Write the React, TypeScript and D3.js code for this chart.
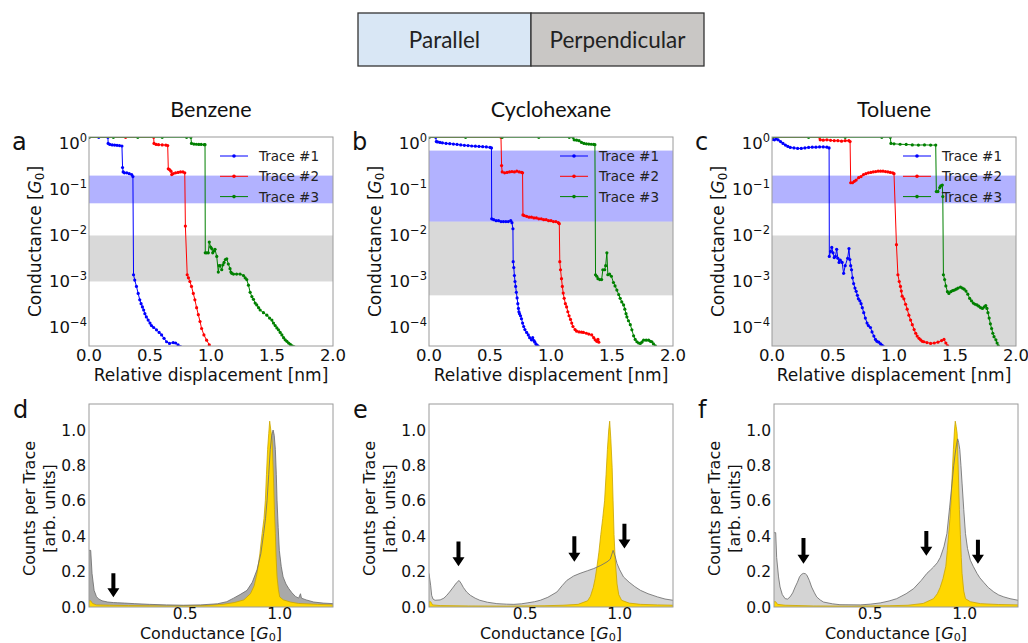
import * as d3 from "d3";

// ---------- data ----------
const titles = ["Benzene", "Cyclohexane", "Toluene"];
const topLetters = ["a", "b", "c"];
const bottomLetters = ["d", "e", "f"];
const traceNames = ["Trace #1", "Trace #2", "Trace #3"];
const traceColors = ["#0000ff", "#ff0000", "#008000"];
const traceXTicks = [0, 0.5, 1, 1.5, 2];
const traceYExponents = [0, -1, -2, -3, -4];
const histXTicks = [0.5, 1.0];
const histYTicks = [0, 0.2, 0.4, 0.6, 0.8, 1.0];
const orientationLabels = ["Parallel", "Perpendicular"];

// bands [low, high] in G0
const blueBands = [
  [0.05, 0.2],
  [0.02, 0.7],
  [0.05, 0.2],
];
const greyBands = [
  [1e-3, 1e-2],
  [5e-4, 0.02],
  [1e-6, 1e-2],
];

type P = [number, number];

const benzeneTrace1: P[] = [
  [0, 1.36], [0.08, 1.36], [0.155, 1.36], [0.157, 1.0], [0.17, 0.95], [0.19, 0.93], [0.21, 0.92], [0.23, 0.91],
  [0.25, 0.9], [0.27, 0.88], [0.275, 0.3], [0.28, 0.24], [0.29, 0.23], [0.31, 0.23], [0.33, 0.22], [0.35, 0.21],
  [0.36, 0.19], [0.365, 1.4e-3], [0.375, 1.07e-3], [0.389, 7.8e-4], [0.403, 5.5e-4], [0.416, 4e-4], [0.427, 3.3e-4],
  [0.438, 2.8e-4], [0.448, 2.4e-4], [0.458, 2e-4], [0.47, 1.7e-4], [0.485, 1.45e-4], [0.5, 1.25e-4], [0.512, 1.1e-4],
  [0.53, 1e-4], [0.553, 8.9e-5], [0.575, 7.8e-5], [0.595, 6.9e-5], [0.615, 5.8e-5], [0.636, 4.9e-5], [0.66, 4.5e-5],
  [0.69, 4.7e-5], [0.71, 4.6e-5], [0.73, 4.2e-5], [0.75, 3.8e-5],
];
const benzeneTrace2: P[] = [
  [0, 1.36], [0.3, 1.36], [0.53, 1.36], [0.533, 1.0], [0.55, 0.95], [0.57, 0.94], [0.6, 0.93], [0.63, 0.92],
  [0.645, 0.9], [0.65, 0.28], [0.66, 0.27], [0.672, 0.25], [0.678, 0.21], [0.69, 0.22], [0.71, 0.23], [0.73, 0.235],
  [0.75, 0.24], [0.77, 0.24], [0.785, 0.23], [0.79, 0.016], [0.805, 1.4e-3], [0.815, 1.2e-3], [0.827, 1.0e-3],
  [0.84, 7.8e-4], [0.855, 5.5e-4], [0.868, 4e-4], [0.882, 2.7e-4], [0.896, 1.9e-4], [0.91, 1.35e-4], [0.923, 9.5e-5],
  [0.942, 6.9e-5], [0.964, 5.3e-5], [0.986, 4.2e-5],
];
const benzeneTrace3: P[] = [
  [0, 1.36], [0.2, 1.36], [0.4, 1.36], [0.6, 1.36], [0.8, 1.36], [0.835, 1.36], [0.84, 1.0], [0.86, 0.97],
  [0.88, 0.96], [0.9, 0.95], [0.92, 0.95], [0.945, 0.94], [0.951, 0.94], [0.953, 4.2e-3], [0.965, 4.2e-3],
  [0.978, 4.2e-3], [0.986, 7.2e-3], [0.997, 5.6e-3], [1.006, 5.2e-3], [1.014, 4.2e-3], [1.024, 4.6e-3],
  [1.033, 5.0e-3], [1.047, 3.5e-3], [1.06, 1.6e-3], [1.067, 2.2e-3], [1.074, 2.2e-3], [1.088, 1.8e-3],
  [1.098, 2.3e-3], [1.107, 2.6e-3], [1.118, 3.0e-3], [1.129, 3.1e-3], [1.142, 2.4e-3], [1.156, 1.9e-3],
  [1.163, 1.6e-3], [1.17, 1.5e-3], [1.184, 1.45e-3], [1.21, 1.45e-3], [1.238, 1.45e-3], [1.266, 1.35e-3],
  [1.28, 1.2e-3], [1.293, 1.1e-3], [1.307, 8.3e-4], [1.321, 5.8e-4], [1.335, 4.7e-4], [1.348, 4.1e-4],
  [1.362, 3.4e-4], [1.375, 3.1e-4], [1.39, 2.7e-4], [1.403, 2.4e-4], [1.43, 2.1e-4], [1.458, 1.85e-4],
  [1.48, 1.6e-4], [1.499, 1.45e-4], [1.512, 1.25e-4], [1.526, 1.1e-4], [1.54, 9.8e-5], [1.553, 8.9e-5],
  [1.567, 7.8e-5], [1.581, 6.9e-5], [1.595, 6e-5], [1.608, 5.4e-5], [1.622, 5e-5], [1.636, 4.6e-5],
  [1.65, 4.3e-5], [1.665, 4e-5], [1.68, 3.8e-5],
];

const cyclohexaneTrace1: P[] = [
  [0, 1.36], [0.055, 1.36], [0.06, 1.1], [0.07, 1.08], [0.09, 1.05], [0.11, 1.03], [0.14, 1.0], [0.17, 0.99],
  [0.2, 0.97], [0.23, 0.95], [0.26, 0.93], [0.29, 0.91], [0.32, 0.9], [0.35, 0.88], [0.38, 0.87], [0.41, 0.86],
  [0.44, 0.85], [0.47, 0.84], [0.5, 0.82], [0.512, 0.8], [0.514, 0.023], [0.53, 0.022], [0.55, 0.021], [0.57, 0.021],
  [0.59, 0.02], [0.61, 0.02], [0.63, 0.02], [0.65, 0.02], [0.67, 0.021], [0.68, 0.019], [0.688, 0.014],
  [0.69, 2.7e-3], [0.695, 2.0e-3], [0.7, 1.35e-3], [0.705, 1.0e-3], [0.71, 7.8e-4], [0.716, 5.8e-4],
  [0.722, 4.4e-4], [0.728, 3.3e-4], [0.733, 2.6e-4], [0.737, 2.2e-4], [0.742, 2e-4], [0.75, 1.8e-4],
  [0.758, 1.55e-4], [0.767, 1.25e-4], [0.776, 1.05e-4], [0.786, 9e-5], [0.8, 7.8e-5], [0.814, 6.9e-5],
  [0.825, 6e-5], [0.84, 5.4e-5], [0.85, 6e-5], [0.86, 5.2e-5], [0.868, 4.8e-5], [0.878, 4.3e-5],
  [0.888, 4.1e-5], [0.9, 3.8e-5],
];
const cyclohexaneTrace2: P[] = [
  [0, 1.36], [0.59, 1.36], [0.595, 0.33], [0.6, 0.24], [0.62, 0.23], [0.64, 0.235], [0.66, 0.24], [0.68, 0.245],
  [0.7, 0.24], [0.72, 0.25], [0.74, 0.24], [0.76, 0.235], [0.767, 0.23], [0.77, 0.028], [0.78, 0.027], [0.8, 0.026],
  [0.82, 0.025], [0.84, 0.025], [0.86, 0.024], [0.88, 0.024], [0.9, 0.023], [0.92, 0.023], [0.94, 0.022],
  [0.96, 0.022], [0.98, 0.021], [1.0, 0.021], [1.02, 0.02], [1.04, 0.02], [1.06, 0.019], [1.068, 0.018],
  [1.072, 2.7e-3], [1.078, 1.8e-3], [1.086, 1.15e-3], [1.093, 7.8e-4], [1.1, 5.6e-4], [1.108, 4.3e-4],
  [1.118, 3.3e-4], [1.128, 2.8e-4], [1.138, 2.2e-4], [1.148, 1.8e-4], [1.16, 1.5e-4], [1.17, 1.25e-4],
  [1.18, 1.05e-4], [1.197, 9e-5], [1.21, 8.3e-5], [1.23, 8e-5], [1.25, 7.9e-5], [1.266, 7.8e-5], [1.29, 7.5e-5],
  [1.31, 7.2e-5], [1.334, 6.9e-5], [1.35, 6e-5], [1.362, 5.4e-5], [1.375, 5e-5], [1.385, 5.5e-5], [1.392, 4.8e-5],
];
const cyclohexaneTrace3: P[] = [
  [0, 1.36], [0.3, 1.36], [0.6, 1.36], [0.9, 1.36], [1.15, 1.36], [1.18, 1.36], [1.19, 1.2], [1.21, 1.18],
  [1.23, 1.15], [1.25, 1.05], [1.27, 1.0], [1.29, 0.98], [1.31, 0.97], [1.33, 0.96], [1.35, 0.95], [1.36, 0.94],
  [1.365, 1.4e-3], [1.375, 1.3e-3], [1.385, 1.15e-3], [1.4, 1.1e-3], [1.415, 1.1e-3], [1.425, 1.8e-3],
  [1.44, 1.8e-3], [1.448, 2.2e-3], [1.458, 4.2e-3], [1.466, 1.4e-3], [1.48, 1.45e-3], [1.495, 1.3e-3],
  [1.512, 9.5e-4], [1.525, 8e-4], [1.54, 6.5e-4], [1.555, 5.2e-4], [1.567, 4.3e-4], [1.58, 3.6e-4],
  [1.595, 3.1e-4], [1.605, 2.5e-4], [1.615, 2e-4], [1.622, 1.7e-4], [1.635, 1.4e-4], [1.65, 1.15e-4],
  [1.663, 8.9e-5], [1.677, 6.6e-5], [1.69, 5.5e-5], [1.704, 4.9e-5], [1.718, 4.6e-5], [1.732, 4.5e-5],
  [1.745, 4.8e-5], [1.759, 5.3e-5], [1.78, 5.3e-5], [1.8, 5.3e-5], [1.815, 5e-5], [1.827, 4.9e-5],
  [1.84, 4.4e-5], [1.855, 4e-5],
];

const tolueneTrace1: P[] = [
  [0, 1.25], [0.005, 1.22], [0.02, 1.2], [0.035, 1.25], [0.05, 1.2], [0.07, 1.1], [0.09, 1.0], [0.11, 0.92],
  [0.13, 0.86], [0.15, 0.82], [0.18, 0.8], [0.21, 0.78], [0.24, 0.78], [0.27, 0.8], [0.3, 0.82], [0.33, 0.83],
  [0.36, 0.83], [0.39, 0.84], [0.42, 0.84], [0.45, 0.83], [0.468, 0.8], [0.47, 3.5e-3], [0.48, 4.5e-3],
  [0.49, 5.5e-3], [0.5, 4.2e-3], [0.51, 3.3e-3], [0.52, 3.5e-3], [0.53, 5e-3], [0.54, 3.2e-3], [0.55, 2.6e-3],
  [0.56, 2.9e-3], [0.575, 2.6e-3], [0.587, 1.5e-3], [0.6, 2.2e-3], [0.62, 3.2e-3], [0.631, 5.2e-3],
  [0.638, 3.0e-3], [0.645, 2.2e-3], [0.652, 1.8e-3], [0.66, 1.2e-3], [0.669, 9e-4], [0.68, 7.2e-4],
  [0.69, 6.1e-4], [0.7, 5e-4], [0.708, 4.2e-4], [0.72, 3.8e-4], [0.73, 3.3e-4], [0.74, 2.7e-4], [0.752, 2.1e-4],
  [0.765, 1.6e-4], [0.779, 1.25e-4], [0.79, 1.1e-4], [0.807, 1.0e-4], [0.82, 8e-5], [0.835, 6.5e-5],
  [0.848, 5.5e-5], [0.86, 5e-5], [0.875, 4.8e-5], [0.89, 4.4e-5], [0.903, 4.1e-5], [0.915, 3.8e-5],
];
const tolueneTrace2: P[] = [
  [0, 1.36], [0.39, 1.36], [0.395, 1.2], [0.42, 1.18], [0.45, 1.2], [0.48, 1.17], [0.51, 1.15], [0.54, 1.15],
  [0.57, 1.12], [0.6, 1.15], [0.63, 1.15], [0.64, 1.1], [0.645, 0.14], [0.66, 0.14], [0.675, 0.15], [0.69, 0.16],
  [0.71, 0.18], [0.73, 0.19], [0.75, 0.21], [0.77, 0.22], [0.79, 0.23], [0.81, 0.235], [0.83, 0.24], [0.85, 0.245],
  [0.87, 0.25], [0.89, 0.25], [0.91, 0.25], [0.93, 0.245], [0.95, 0.24], [0.97, 0.235], [0.99, 0.23], [1.0, 0.22],
  [1.02, 6.3e-3], [1.032, 1.4e-3], [1.043, 1.0e-3], [1.053, 7.8e-4], [1.06, 6.2e-4], [1.067, 4.8e-4],
  [1.081, 4.2e-4], [1.095, 3.2e-4], [1.108, 2.5e-4], [1.122, 1.85e-4], [1.136, 1.45e-4], [1.15, 1.15e-4],
  [1.165, 9e-5], [1.178, 7.5e-5], [1.19, 6.5e-5], [1.205, 5.8e-5], [1.218, 5.4e-5], [1.232, 5e-5],
  [1.245, 4.9e-5], [1.27, 4.7e-5], [1.3, 4.5e-5], [1.33, 4.6e-5], [1.36, 4.8e-5], [1.39, 5.2e-5],
  [1.41, 5.5e-5], [1.425, 4.6e-5], [1.44, 4.0e-5],
];
const tolueneTrace3: P[] = [
  [0, 1.36], [0.3, 1.36], [0.6, 1.36], [0.9, 1.36], [0.97, 1.36], [0.975, 1.0], [1.0, 0.98], [1.05, 0.96],
  [1.1, 0.95], [1.15, 0.93], [1.2, 0.92], [1.25, 0.93], [1.3, 0.92], [1.342, 0.92], [1.347, 0.09], [1.36, 0.09],
  [1.375, 0.11], [1.383, 0.12], [1.396, 0.125], [1.4, 0.07], [1.405, 1.4e-3], [1.415, 1.1e-3], [1.425, 8e-4],
  [1.438, 6e-4], [1.45, 5.5e-4], [1.465, 6e-4], [1.48, 6.3e-4], [1.495, 6.5e-4], [1.51, 6.8e-4], [1.525, 7.2e-4],
  [1.545, 7.5e-4], [1.56, 7.2e-4], [1.575, 6.8e-4], [1.59, 6.2e-4], [1.605, 5.3e-4], [1.62, 4.3e-4],
  [1.635, 3.8e-4], [1.65, 3.4e-4], [1.665, 3.2e-4], [1.68, 3.1e-4], [1.695, 2.9e-4], [1.71, 2.7e-4],
  [1.725, 2.6e-4], [1.74, 2.8e-4], [1.752, 3.0e-4], [1.762, 2.6e-4], [1.77, 2.1e-4], [1.78, 1.6e-4],
  [1.79, 1.2e-4], [1.8, 9.5e-5], [1.81, 7.5e-5], [1.82, 6.3e-5], [1.835, 5.4e-5], [1.845, 4.6e-5], [1.855, 4e-5],
];

// histograms: [conductance, counts]
const benzeneGrey: P[] = [
  [-0.009, 0.32], [0.0, 0.32], [0.007, 0.19], [0.018, 0.094], [0.03, 0.06], [0.04, 0.047], [0.06, 0.035],
  [0.09, 0.028], [0.12, 0.025], [0.14, 0.024], [0.18, 0.022], [0.23, 0.019], [0.31, 0.015], [0.4, 0.012],
  [0.49, 0.01], [0.58, 0.012], [0.67, 0.018], [0.72, 0.03], [0.756, 0.05], [0.79, 0.07], [0.827, 0.094],
  [0.855, 0.14], [0.88, 0.21], [0.9, 0.3], [0.915, 0.415], [0.925, 0.5], [0.933, 0.6], [0.942, 0.75],
  [0.95, 0.89], [0.958, 0.97], [0.965, 1.0], [0.971, 0.97], [0.977, 0.89], [0.982, 0.75], [0.986, 0.6],
  [0.992, 0.45], [0.998, 0.32], [1.008, 0.23], [1.018, 0.17], [1.033, 0.13], [1.048, 0.104], [1.065, 0.08],
  [1.083, 0.06], [1.1, 0.05], [1.11, 0.075], [1.115, 0.05], [1.14, 0.04], [1.18, 0.028], [1.23, 0.022],
  [1.282, 0.019],
];
const benzeneGold: P[] = [
  [-0.009, 0.035], [0.0, 0.035], [0.01, 0.02], [0.03, 0.012], [0.1, 0.01], [0.2, 0.008], [0.4, 0.006],
  [0.6, 0.008], [0.7, 0.015], [0.76, 0.025], [0.81, 0.04], [0.845, 0.075], [0.865, 0.12], [0.88, 0.19],
  [0.895, 0.3], [0.907, 0.415], [0.917, 0.5], [0.924, 0.6], [0.93, 0.75], [0.936, 0.89], [0.942, 0.98],
  [0.947, 1.05], [0.953, 1.0], [0.96, 0.94], [0.964, 0.82], [0.968, 0.7], [0.972, 0.55], [0.977, 0.415],
  [0.981, 0.28], [0.986, 0.17], [0.993, 0.1], [1.0, 0.057], [1.02, 0.04], [1.057, 0.028], [1.1, 0.02],
  [1.2, 0.015], [1.282, 0.012],
];
const cyclohexaneGrey: P[] = [
  [-0.009, 0.19], [0.0, 0.12], [0.005, 0.066], [0.012, 0.045], [0.023, 0.038], [0.05, 0.04], [0.07, 0.05],
  [0.085, 0.066], [0.1, 0.085], [0.12, 0.113], [0.135, 0.135], [0.15, 0.15], [0.16, 0.135], [0.173, 0.11],
  [0.19, 0.085], [0.21, 0.066], [0.235, 0.05], [0.26, 0.038], [0.3, 0.027], [0.35, 0.019], [0.4, 0.016],
  [0.44, 0.015], [0.48, 0.018], [0.51, 0.023], [0.55, 0.03], [0.58, 0.038], [0.62, 0.055], [0.668, 0.085],
  [0.695, 0.12], [0.72, 0.15], [0.756, 0.175], [0.79, 0.19], [0.83, 0.205], [0.862, 0.217], [0.9, 0.235],
  [0.933, 0.255], [0.95, 0.27], [0.965, 0.32], [0.975, 0.29], [0.986, 0.245], [1.0, 0.21], [1.02, 0.17],
  [1.05, 0.14], [1.08, 0.115], [1.11, 0.094], [1.15, 0.075], [1.2, 0.057], [1.24, 0.045], [1.282, 0.038],
];
const cyclohexaneGold: P[] = [
  [-0.009, 0.03], [0.0, 0.03], [0.01, 0.012], [0.05, 0.008], [0.2, 0.006], [0.4, 0.005], [0.6, 0.007],
  [0.7, 0.01], [0.78, 0.015], [0.83, 0.035], [0.845, 0.06], [0.86, 0.11], [0.87, 0.16], [0.88, 0.23],
  [0.89, 0.31], [0.9, 0.41], [0.91, 0.5], [0.92, 0.6], [0.928, 0.75], [0.935, 0.89], [0.942, 1.0],
  [0.947, 1.05], [0.953, 0.95], [0.96, 0.79], [0.965, 0.6], [0.97, 0.41], [0.976, 0.27], [0.986, 0.13],
  [0.995, 0.07], [1.01, 0.038], [1.05, 0.022], [1.11, 0.015], [1.2, 0.012], [1.282, 0.01],
];
const tolueneGrey: P[] = [
  [-0.009, 0.42], [0.0, 0.42], [0.005, 0.28], [0.015, 0.17], [0.023, 0.113], [0.035, 0.07], [0.05, 0.047],
  [0.063, 0.045], [0.076, 0.057], [0.09, 0.08], [0.103, 0.113], [0.115, 0.14], [0.126, 0.17], [0.137, 0.185],
  [0.147, 0.19], [0.157, 0.188], [0.165, 0.18], [0.178, 0.15], [0.19, 0.113], [0.205, 0.08], [0.217, 0.057],
  [0.235, 0.04], [0.253, 0.028], [0.3, 0.018], [0.34, 0.013], [0.447, 0.012], [0.5, 0.016], [0.553, 0.023],
  [0.6, 0.034], [0.64, 0.047], [0.69, 0.075], [0.73, 0.104], [0.77, 0.15], [0.8, 0.19], [0.82, 0.21],
  [0.835, 0.226], [0.855, 0.25], [0.871, 0.28], [0.89, 0.34], [0.906, 0.415], [0.92, 0.56], [0.933, 0.7],
  [0.942, 0.8], [0.95, 0.87], [0.957, 0.92], [0.963, 0.95], [0.968, 0.93], [0.974, 0.89], [0.98, 0.8],
  [0.986, 0.7], [0.995, 0.55], [1.004, 0.415], [1.015, 0.33], [1.03, 0.264], [1.045, 0.23], [1.065, 0.19],
  [1.08, 0.165], [1.1, 0.14], [1.125, 0.11], [1.154, 0.085], [1.18, 0.068], [1.207, 0.057], [1.24, 0.047],
  [1.282, 0.038],
];
const tolueneGold: P[] = [
  [-0.009, 0.03], [0.0, 0.03], [0.01, 0.015], [0.05, 0.01], [0.2, 0.006], [0.4, 0.005], [0.6, 0.007],
  [0.7, 0.01], [0.78, 0.02], [0.835, 0.047], [0.855, 0.075], [0.87, 0.11], [0.885, 0.16], [0.9, 0.23],
  [0.908, 0.32], [0.915, 0.41], [0.922, 0.5], [0.928, 0.6], [0.934, 0.75], [0.94, 0.89], [0.946, 1.0],
  [0.95, 1.05], [0.955, 1.02], [0.96, 0.98], [0.964, 0.85], [0.968, 0.7], [0.972, 0.55], [0.977, 0.41],
  [0.982, 0.28], [0.986, 0.19], [0.995, 0.09], [1.004, 0.047], [1.03, 0.03], [1.083, 0.019], [1.18, 0.014],
  [1.282, 0.012],
];

// arrows: [conductance, top, tip]
const benzeneArrows = [[0.12, 0.19, 0.055]];
const cyclohexaneArrows = [
  [0.147, 0.37, 0.23],
  [0.76, 0.4, 0.255],
  [1.025, 0.47, 0.33],
];
const tolueneArrows = [
  [0.147, 0.39, 0.245],
  [0.797, 0.43, 0.29],
  [1.07, 0.38, 0.245],
];

const traceSets = [
  [benzeneTrace1, benzeneTrace2, benzeneTrace3],
  [cyclohexaneTrace1, cyclohexaneTrace2, cyclohexaneTrace3],
  [tolueneTrace1, tolueneTrace2, tolueneTrace3],
];
const greyHists = [benzeneGrey, cyclohexaneGrey, tolueneGrey];
const goldHists = [benzeneGold, cyclohexaneGold, tolueneGold];
const arrowSets = [benzeneArrows, cyclohexaneArrows, tolueneArrows];

// ---------- layout ----------
const tickFont = "DejaVu Sans, Liberation Sans, sans-serif";
const titleFont = "Lato, Open Sans, sans-serif";
const topLefts = [89, 429, 772];
const bottomLefts = [89, 429, 774];
const plotW = 244;
const topY0 = 137, topY1 = 346;
const botY0 = 404, botY1 = 607;
const frameColor = "#9a9a9a";
const greyFills = ["#a9a9a9", "#d4d4d4", "#d4d4d4"];

const G0 = ({ size }: { size: number }) => (
  <>
    <tspan fontStyle="italic">G</tspan>
    <tspan fontSize={size * 0.7} dy={size * 0.15}>0</tspan>
    <tspan dy={-size * 0.15}>]</tspan>
  </>
);

function TracePanel({ i }: { i: number }) {
  const left = topLefts[i];
  const x = d3.scaleLinear().domain([0, 2]).range([left, left + plotW]);
  const y = d3.scaleLog().domain([3.96e-5, 1.38]).range([topY1, topY0]);
  const line = d3
    .line<P>()
    .x((d) => x(d[0]))
    .y((d) => y(d[1]));
  const clip = `clipT${i}`;
  const bandRect = (b: number[], fill: string) => {
    const lo = Math.max(b[0], y.domain()[0]);
    return (
      <rect x={left} width={plotW} y={y(b[1])} height={y(lo) - y(b[1])} fill={fill} fillOpacity={0.3} />
    );
  };
  const legX = left + plotW - 113;
  return (
    <g>
      <defs>
        <clipPath id={clip}>
          <rect x={left} y={topY0} width={plotW} height={topY1 - topY0} />
        </clipPath>
      </defs>
      <text x={left + plotW / 2} y={117} textAnchor="middle" fontFamily={titleFont} fontSize={21.5} fill="#111">
        {titles[i]}
      </text>
      <text x={left - 77} y={150} fontFamily={tickFont} fontSize={24} fill="#111">
        {topLetters[i]}
      </text>
      <g clipPath={`url(#${clip})`}>
        {bandRect(blueBands[i], "#0000ff")}
        {bandRect(greyBands[i], "#808080")}
        {traceSets[i].map((tr, k) => (
          <g key={k}>
            <path d={line(tr) || ""} fill="none" stroke={traceColors[k]} strokeWidth={1} />
            {tr.map((p, j) => (
              <circle key={j} cx={x(p[0])} cy={y(p[1])} r={1.6} fill={traceColors[k]} />
            ))}
          </g>
        ))}
      </g>
      <rect x={left} y={topY0} width={plotW} height={topY1 - topY0} fill="none" stroke={frameColor} strokeWidth={1} />
      {traceNames.map((n, k) => {
        const yy = topY0 + 19 + k * 20.3;
        return (
          <g key={n}>
            <line x1={legX} x2={legX + 28} y1={yy} y2={yy} stroke={traceColors[k]} strokeWidth={1} />
            <circle cx={legX + 14} cy={yy} r={1.8} fill={traceColors[k]} />
            <text x={legX + 39} y={yy + 5} fontFamily={tickFont} fontSize={13.5} fill="#222">
              {n}
            </text>
          </g>
        );
      })}
      {traceXTicks.map((t) => (
        <text key={t} x={x(t)} y={361} textAnchor="middle" fontFamily={tickFont} fontSize={16.5} fill="#111">
          {t.toFixed(1)}
        </text>
      ))}
      {traceYExponents.map((e) => (
        <text key={e} x={left - 2} y={y(Math.pow(10, e)) + 6} textAnchor="end" fontFamily={tickFont} fontSize={16.5} fill="#111">
          <tspan>10</tspan>
          <tspan fontSize={11.5} dy={-7}>{e === 0 ? "0" : `\u2212${-e}`}</tspan>
        </text>
      ))}
      <text x={left + plotW / 2} y={381} textAnchor="middle" fontFamily={tickFont} fontSize={17} fill="#111">
        Relative displacement [nm]
      </text>
      <text
        transform={`translate(${left - 48},${(topY0 + topY1) / 2}) rotate(-90)`}
        textAnchor="middle"
        fontFamily={tickFont}
        fontSize={17}
        fill="#111"
      >
        Conductance [<G0 size={17} />
      </text>
    </g>
  );
}

function HistPanel({ i }: { i: number }) {
  const left = bottomLefts[i];
  const x = d3.scaleLinear().domain([-0.009, 1.282]).range([left, left + plotW]);
  const y = d3.scaleLinear().domain([0, 1.147]).range([botY1, botY0]);
  const area = d3
    .area<P>()
    .x((d) => x(d[0]))
    .y0(y(0))
    .y1((d) => y(d[1]));
  const line = d3
    .line<P>()
    .x((d) => x(d[0]))
    .y((d) => y(d[1]));
  const clip = `clipH${i}`;
  return (
    <g>
      <defs>
        <clipPath id={clip}>
          <rect x={left} y={botY0} width={plotW} height={botY1 - botY0} />
        </clipPath>
      </defs>
      <text x={left - 76} y={418} fontFamily={tickFont} fontSize={24} fill="#111">
        {bottomLetters[i]}
      </text>
      <g clipPath={`url(#${clip})`}>
        <path d={area(greyHists[i]) || ""} fill={greyFills[i]} />
        <path d={area(goldHists[i]) || ""} fill="#ffd700" />
        <path d={line(goldHists[i]) || ""} fill="none" stroke="#c9a400" strokeWidth={0.8} />
        <path d={line(greyHists[i]) || ""} fill="none" stroke="#707070" strokeWidth={1} strokeOpacity={0.85} />
      </g>
      <rect x={left} y={botY0} width={plotW} height={botY1 - botY0} fill="none" stroke={frameColor} strokeWidth={1} />
      {arrowSets[i].map((a, k) => {
        const ax = x(a[0]);
        const yTop = y(a[1]);
        const yTip = y(a[2]);
        const hh = 9;
        return (
          <path
            key={k}
            d={`M${ax - 2},${yTop} L${ax + 2},${yTop} L${ax + 2},${yTip - hh} L${ax + 6},${yTip - hh} L${ax},${yTip} L${ax - 6},${yTip - hh} L${ax - 2},${yTip - hh} Z`}
            fill="#000"
          />
        );
      })}
      {histXTicks.map((t) => (
        <text key={t} x={x(t)} y={619} textAnchor="middle" fontFamily={tickFont} fontSize={15.5} fill="#111">
          {t.toFixed(1)}
        </text>
      ))}
      {histYTicks.map((t) => (
        <text key={t} x={left - 3} y={y(t) + 5.5} textAnchor="end" fontFamily={tickFont} fontSize={15.5} fill="#111">
          {t.toFixed(1)}
        </text>
      ))}
      <text x={left + plotW / 2} y={638.5} textAnchor="middle" fontFamily={tickFont} fontSize={16} fill="#111">
        Conductance [<G0 size={16} />
      </text>
      <text
        transform={`translate(${left - 54},${(botY0 + botY1) / 2 + 3}) rotate(-90)`}
        textAnchor="middle"
        fontFamily={tickFont}
        fontSize={16}
        fill="#111"
      >
        Counts per Trace
      </text>
      <text
        transform={`translate(${left - 34},${(botY0 + botY1) / 2 + 3}) rotate(-90)`}
        textAnchor="middle"
        fontFamily={tickFont}
        fontSize={16}
        fill="#111"
      >
        [arb. units]
      </text>
    </g>
  );
}

export default function App() {
  const boxFills = ["#d9e7f5", "#c9c7c5"];
  const boxX = [358, 531, 704];
  return (
    <svg
      width={1028}
      height={643}
      style={{ position: "absolute", left: 0, top: 0, background: "#fff" }}
    >
      <rect x={0} y={0} width={1028} height={643} fill="#fff" />
      {orientationLabels.map((lab, k) => (
        <g key={lab}>
          <rect x={boxX[k]} y={13} width={boxX[k + 1] - boxX[k]} height={53} fill={boxFills[k]} stroke="#333" strokeWidth={1.3} />
          <text x={(boxX[k] + boxX[k + 1]) / 2} y={48} textAnchor="middle" fontFamily={titleFont} fontSize={22.5} fill="#222">
            {lab}
          </text>
        </g>
      ))}
      {[0, 1, 2].map((i) => (
        <TracePanel key={`t${i}`} i={i} />
      ))}
      {[0, 1, 2].map((i) => (
        <HistPanel key={`h${i}`} i={i} />
      ))}
    </svg>
  );
}
